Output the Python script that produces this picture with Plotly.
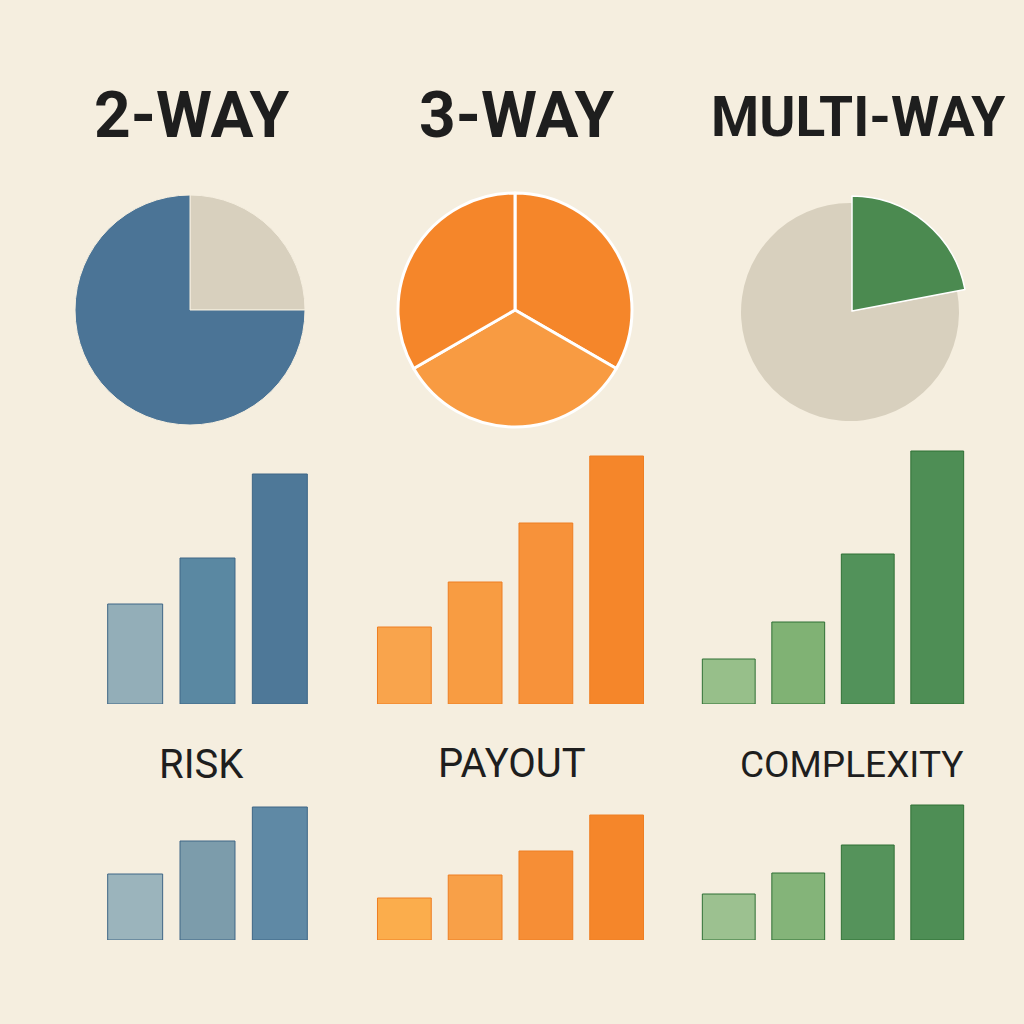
import plotly.graph_objects as go

# ---------------- data ----------------
titles = ["2-WAY", "3-WAY", "MULTI-WAY"]
metric_labels = ["RISK", "PAYOUT", "COMPLEXITY"]

pie_2way_labels = ["Other", "Main"]
pie_2way_values = [25, 75]
pie_3way_labels = ["A", "B", "C"]
pie_3way_values = [1, 1, 1]
pie_multi_labels = ["Highlighted", "Rest"]
pie_multi_values = [22, 78]

# upper bar rows (relative heights)
bars_top_2way = [100, 146, 230]
bars_top_3way = [77, 122, 181, 248]
bars_top_multi = [45, 82, 150, 253]

# lower bar rows
bars_bot_2way = [66, 99, 133]
bars_bot_3way = [42, 65, 89, 125]
bars_bot_multi = [46, 67, 95, 135]

# ---------------- styles ----------------
BG = "#F5EEDF"
TXT = "#1E1E1E"
BLUE = "#4B7496"
BEIGE = "#D8D0BE"
ORANGE = "#F5862A"
ORANGE_L = "#F89B42"
GREEN = "#4B8A50"

blue_top = ["#93AEB8", "#5A88A2", "#4E7898"]
orange_top = ["#F9A44C", "#F89C42", "#F7923A", "#F5862A"]
green_top = ["#97BF8A", "#80B274", "#52925A", "#4E8E55"]
blue_bot = ["#9BB4BC", "#7C9CAB", "#5F89A5"]
orange_bot = ["#FBAD4C", "#F8A048", "#F68E36", "#F5862A"]
green_bot = ["#9CC190", "#84B479", "#55935B", "#4E8E55"]

blue_edge = "#3E6686"
orange_edge = "#EE7E22"
green_edge = "#2F7035"

W = H = 1024


def px(x):
    return x / W


def py(y):
    return 1 - y / H


fig = go.Figure()

# ---------------- pies ----------------
def circle_domain(cx, cy, r):
    return dict(x=[px(cx - r), px(cx + r)], y=[py(cy + r), py(cy - r)])


fig.add_trace(go.Pie(
    labels=pie_2way_labels, values=pie_2way_values, sort=False,
    direction="clockwise", rotation=0, textinfo="none", hoverinfo="skip",
    marker=dict(colors=[BEIGE, BLUE], line=dict(color=BG, width=1)),
    domain=circle_domain(190, 310, 115), showlegend=False))

fig.add_trace(go.Pie(
    labels=pie_3way_labels, values=pie_3way_values, sort=False,
    direction="clockwise", rotation=0, textinfo="none", hoverinfo="skip",
    marker=dict(colors=[ORANGE, ORANGE_L, ORANGE], line=dict(color="#FFFFFF", width=3)),
    domain=circle_domain(515, 310, 117), showlegend=False))

# multi-way: base gray circle + enlarged green wedge on top
fig.add_trace(go.Pie(
    labels=pie_multi_labels, values=pie_multi_values, sort=False,
    direction="clockwise", rotation=0, textinfo="none", hoverinfo="skip",
    marker=dict(colors=[BEIGE, BEIGE], line=dict(color=BEIGE, width=0)),
    domain=circle_domain(850, 312, 109), showlegend=False))

fig.add_trace(go.Pie(
    labels=pie_multi_labels, values=pie_multi_values, sort=False,
    direction="clockwise", rotation=0, textinfo="none", hoverinfo="skip",
    marker=dict(colors=[GREEN, "rgba(0,0,0,0)"], line=dict(color=["#FFFFFF", "rgba(0,0,0,0)"], width=1.5)),
    domain=circle_domain(852, 311, 115), showlegend=False))

# ---------------- bars ----------------
groups = [
    (bars_top_2way, blue_top, blue_edge, "x", "y"),
    (bars_top_3way, orange_top, orange_edge, "x2", "y2"),
    (bars_top_multi, green_top, green_edge, "x3", "y3"),
    (bars_bot_2way, blue_bot, blue_edge, "x4", "y4"),
    (bars_bot_3way, orange_bot, orange_edge, "x5", "y5"),
    (bars_bot_multi, green_bot, green_edge, "x6", "y6"),
]
for vals, cols, edge, xa, ya in groups:
    fig.add_trace(go.Bar(
        x=list(range(len(vals))), y=vals, xaxis=xa, yaxis=ya,
        marker=dict(color=cols, line=dict(color=edge, width=1)),
        hoverinfo="skip", showlegend=False))

x_domains = [[99, 316], [369, 652], [694, 972]]
row_defs = [(704, 444, 260), (940, 800, 140)]

layout_axes = {}
idx = 1
for r, (base, top, ymax) in enumerate(row_defs):
    for c, (x0, x1) in enumerate(x_domains):
        n = 3 if c == 0 else 4
        xname = "xaxis" if idx == 1 else f"xaxis{idx}"
        yname = "yaxis" if idx == 1 else f"yaxis{idx}"
        layout_axes[xname] = dict(domain=[px(x0), px(x1)], range=[-0.5, n - 0.5],
                                  visible=False, fixedrange=True,
                                  anchor="y" if idx == 1 else f"y{idx}")
        layout_axes[yname] = dict(domain=[py(base), py(top)], range=[0, ymax],
                                  visible=False, fixedrange=True,
                                  anchor="x" if idx == 1 else f"x{idx}")
        idx += 1

# ---------------- text ----------------
annotations = []
title_pos = [(191, 115, 64), (516, 115, 64), (858, 117, 55)]
for t, (x, y, s) in zip(titles, title_pos):
    annotations.append(dict(text=f"<b>{t}</b>", x=px(x), y=py(y), xref="paper", yref="paper",
                            xanchor="center", yanchor="middle", showarrow=False,
                            font=dict(family="Roboto", size=s, color=TXT)))
label_pos = [(201, 764, 40), (512, 763, 40), (851, 764, 37)]
for t, (x, y, s) in zip(metric_labels, label_pos):
    annotations.append(dict(text=t, x=px(x), y=py(y), xref="paper", yref="paper",
                            xanchor="center", yanchor="middle", showarrow=False,
                            font=dict(family="Roboto", size=s, color=TXT)))

fig.update_layout(
    width=W, height=H, margin=dict(l=0, r=0, t=0, b=0),
    paper_bgcolor=BG, plot_bgcolor=BG,
    bargap=0.24, hovermode=False,
    annotations=annotations,
    **layout_axes,
)

fig.write_html("out.html", config={"displayModeBar": False},
               post_script="document.body.style.margin='0';document.body.style.overflow='hidden';")
